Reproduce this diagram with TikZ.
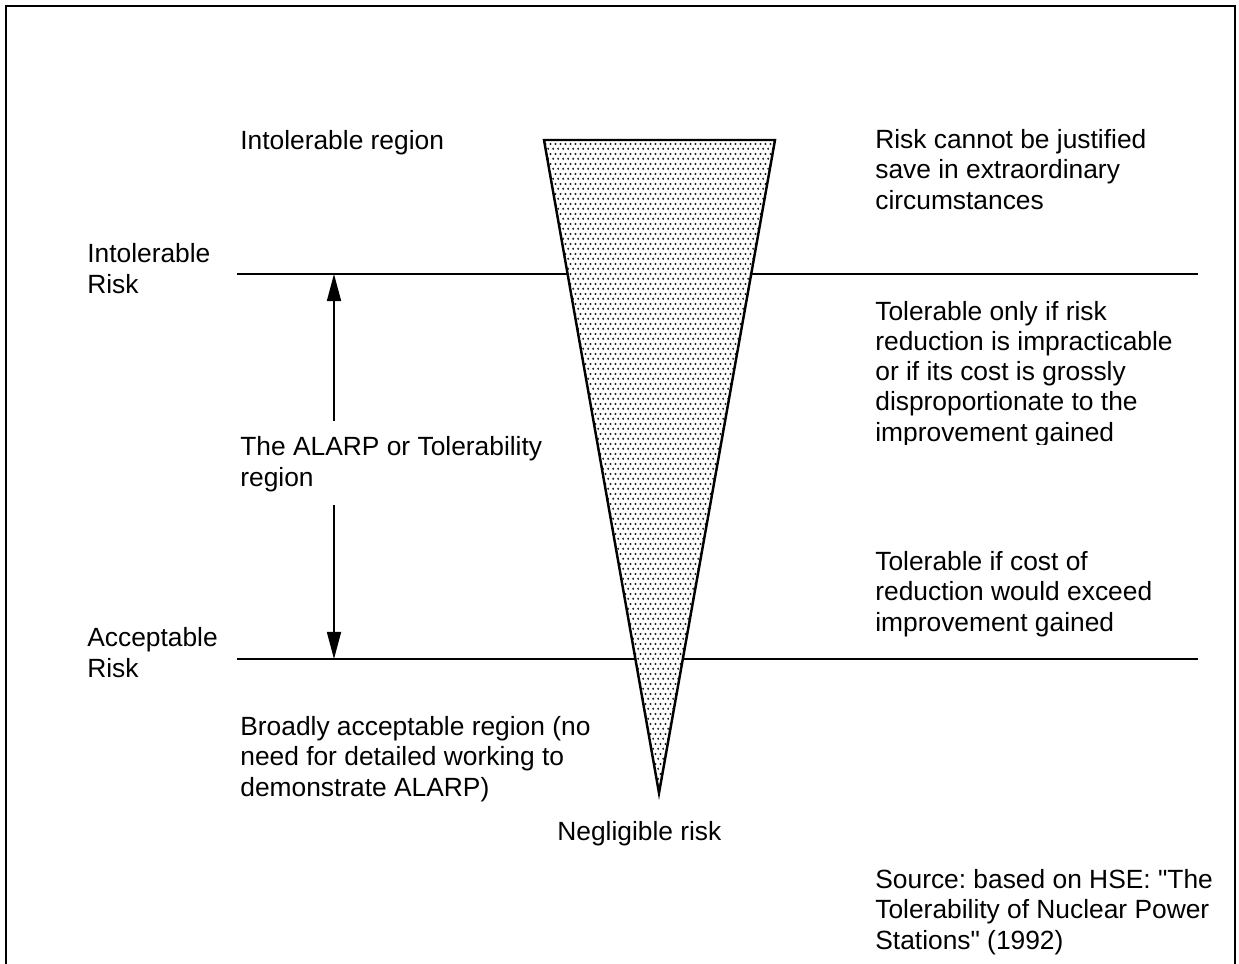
\documentclass[tikz,border=0pt]{standalone}
\usepackage{fontspec}
\setmainfont{Liberation Sans}[Ligatures=TeXOff]
\usetikzlibrary{patterns, arrows.meta}
\frenchspacing

% dotted fill of the risk funnel
\pgfdeclarepatternformonly{riskdots}{\pgfpointorigin}{\pgfqpoint{3pt}{5.8pt}}{\pgfqpoint{3pt}{5.8pt}}{%
    \pgfpathcircle{\pgfqpoint{0.75pt}{0.75pt}}{0.7pt}%
    \pgfpathcircle{\pgfqpoint{2.25pt}{3.65pt}}{0.7pt}%
    \pgfusepath{fill}}

\begin{document}
\begin{tikzpicture}[
    x=0.02cm, y=-0.02cm,
    % nodes are placed at the baseline of their last line
    every node/.style={font=\fontsize{15}{17.1}\selectfont, inner sep=0pt, anchor=base west, align=left},
    >={Triangle[width=8pt, length=15.4pt]},
    level/.style={line width=1.2pt},
    span/.style={->, line width=0.9pt},
    funnel/.style={line width=1.4pt, line join=miter, pattern=riskdots, pattern color=black!90},
]
\useasboundingbox (0,0) rectangle (1239,963);

% === Frame (runs off the bottom) ===
\draw[line width=1.3pt] (6,6) rectangle (1235,990);

% === Risk levels ===
\def\lineL{237}     % left end of level lines
\def\lineR{1198}    % right end of level lines
\def\yInt{274}      % intolerable risk level
\def\yAcc{659}      % acceptable risk level
\coordinate (intL) at (\lineL,\yInt);
\coordinate (intR) at (\lineR,\yInt);
\coordinate (accL) at (\lineL,\yAcc);
\coordinate (accR) at (\lineR,\yAcc);
\draw[level] (intL) -- (intR);
\draw[level] (accL) -- (accR);

% === ALARP span arrows ===
\coordinate (spanUp) at (334,421);
\coordinate (spanDown) at (334,505);
\draw[span] (spanUp) -- (spanUp |- intL);
\draw[span] (spanDown) -- (spanDown |- accL);

% === Funnel (white first, so the levels stop at its sides) ===
\coordinate (funTL) at (544,140);
\coordinate (funTR) at (775,140);
\coordinate (funTip) at (659,793);
\fill[white] (funTL) -- (funTR) -- (funTip) -- cycle;
\draw[funnel] (funTL) -- (funTR) -- (funTip) -- cycle;

% === Left labels ===
\node (intrisk) at (87,293) {Intolerable\\Risk};
\node (accrisk) at (87,677) {Acceptable\\Risk};
\node (intreg) at (240,149) {Intolerable region};
\node (alarp) at (240,486) {The ALARP or Tolerability\\region};
\node (broad) at (240,796) {Broadly acceptable region (no\\need for detailed working to\\demonstrate ALARP)};
\node (neglig) at (557,840) {Negligible risk};

% === Right labels ===
\node (notjust) at (875,209) {Risk cannot be justified\\save in extraordinary\\circumstances};
\begin{scope}
    \clip (800,290) rectangle (1239,444);
    \node (onlyif) at (875,441) {Tolerable only if risk\\reduction is impracticable\\or if its cost is grossly\\disproportionate to the\\improvement gained};
\end{scope}
\node (costif) at (875,631) {Tolerable if cost of\\reduction would exceed\\improvement gained};
\node (source) at (875,949) {Source: based on HSE: "The\\Tolerability of Nuclear Power\\Stations" (1992)};

\end{tikzpicture}
\end{document}
